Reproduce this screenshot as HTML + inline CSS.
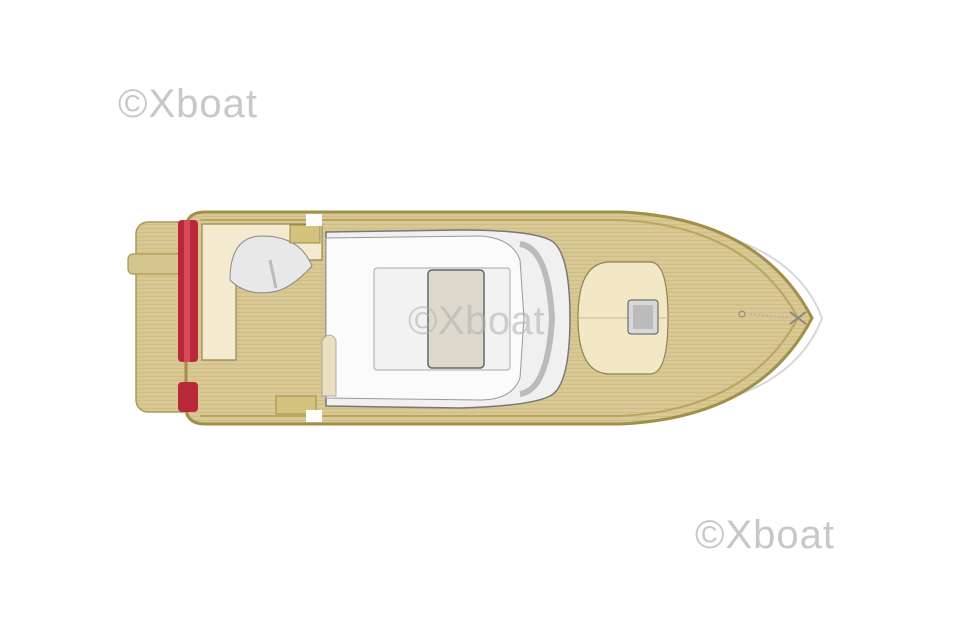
<!DOCTYPE html>
<html><head><meta charset="utf-8"><style>
html,body{margin:0;padding:0;background:#fff;}
svg{display:block}
</style></head><body>
<svg width="960" height="639" viewBox="0 0 960 639" xmlns="http://www.w3.org/2000/svg">
<rect width="960" height="639" fill="#ffffff"/>
<defs>
<pattern id="teak" width="4" height="4" patternUnits="userSpaceOnUse">
<rect width="4" height="4" fill="#d9c894"/><rect width="4" height="1" fill="#cfbd86"/>
</pattern>
</defs>
<path d="M640 222 Q790 232 822 318 Q790 404 640 414" fill="none" stroke="#d8d8d8" stroke-width="2"/>
<path d="M650 228 Q775 240 806 318 Q775 396 650 408" fill="none" stroke="#e0e0e0" stroke-width="1.5"/>
<rect x="136" y="222" width="60" height="190" rx="12" fill="url(#teak)" stroke="#a89a55" stroke-width="1.5"/>
<rect x="128" y="254" width="60" height="20" rx="5" fill="#d6c58e" stroke="#a89a55" stroke-width="1.2"/>
<path d="M186 226 Q188 212 205 212 L620 212 Q760 218 812 318 Q760 418 620 424 L205 424 Q188 424 186 410 Z" fill="url(#teak)" stroke="#a09048" stroke-width="3"/>
<path d="M200 220 L620 220 Q748 226 798 318 Q748 410 620 416 L200 416" fill="none" stroke="#b8a760" stroke-width="2"/>
<rect x="178" y="220" width="20" height="142" rx="4" fill="#b8283a"/>
<rect x="184" y="220" width="6" height="142" fill="#d64a5a"/>
<rect x="178" y="382" width="20" height="30" rx="4" fill="#b8283a"/>
<path d="M202 224 L322 224 L322 260 L236 260 L236 360 L202 360 Z" fill="#f4ead0" stroke="#9a8a4a" stroke-width="1.2"/>
<path d="M230 280 Q230 236 262 236 Q300 236 312 266 Q290 290 272 292 Q246 296 230 280 Z" fill="#e8e8e8" stroke="#888" stroke-width="1"/>
<line x1="270" y1="260" x2="276" y2="288" stroke="#bbb" stroke-width="3"/>
<rect x="290" y="225" width="30" height="18" fill="#d4c27f" stroke="#9a8a4a"/>
<rect x="276" y="396" width="40" height="18" fill="#d4c27f" stroke="#9a8a4a"/>
<rect x="306" y="214" width="16" height="12" fill="#fff"/>
<rect x="306" y="410" width="16" height="12" fill="#fff"/>
<path d="M326 232 L460 230 Q530 230 550 240 Q570 250 570 318 Q570 386 550 396 Q530 406 460 408 L326 406 Z" fill="#f0f0f0" stroke="#777" stroke-width="1.5"/>
<path d="M326 238 L480 236 Q512 238 520 260 L524 318 L520 378 Q512 400 480 400 L326 398 Z" fill="#fbfbfb" stroke="#999" stroke-width="1"/>
<path d="M520 244 Q548 248 552 318 Q548 390 520 394" fill="none" stroke="#bbb" stroke-width="6"/>
<rect x="374" y="268" width="136" height="102" rx="3" fill="#f2f2f2" stroke="#aaa"/>
<rect x="428" y="270" width="56" height="98" rx="4" fill="#ddd9cc" stroke="#666" stroke-width="1.5"/>
<path d="M322 340 Q330 330 336 340 L336 396 L322 396 Z" fill="#e8e0c0" stroke="#999" stroke-width=".8"/>
<path d="M578 318 Q578 262 610 262 L650 262 Q668 262 668 318 Q668 374 650 374 L610 374 Q578 374 578 318 Z" fill="#f3e8c6" stroke="#8f8350" stroke-width="1.2"/>
<line x1="578" y1="318" x2="668" y2="318" stroke="#c9b884"/>
<rect x="628" y="300" width="30" height="34" rx="3" fill="#d8d8d8" stroke="#555"/>
<rect x="633" y="305" width="20" height="24" fill="#bbb"/>
<circle cx="742" cy="314" r="3" fill="none" stroke="#888"/>
<path d="M790 312 L806 324 M806 312 L790 324" stroke="#888" stroke-width="2"/>
<line x1="750" y1="314" x2="790" y2="318" stroke="#aaa" stroke-dasharray="2 2"/>
<text x="118" y="117" font-family="Liberation Sans, sans-serif" font-size="40" letter-spacing="1" fill="#c8c8c8">©Xboat</text>
<text x="695" y="548" font-family="Liberation Sans, sans-serif" font-size="40" letter-spacing="1" fill="#c8c8c8">©Xboat</text>
<text x="408" y="334" font-family="Liberation Sans, sans-serif" font-size="40" letter-spacing="0.5" fill="#b0b0b0" opacity="0.55">©Xboat</text>
</svg>
</body></html>
